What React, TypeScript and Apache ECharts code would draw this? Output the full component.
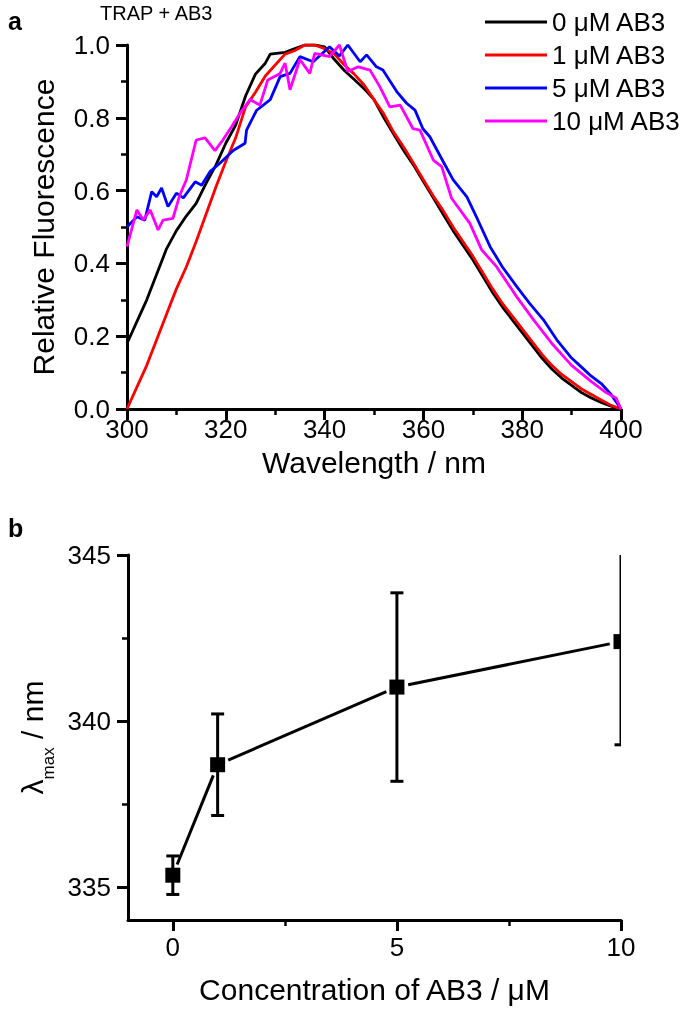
import React, { useEffect, useRef } from "react";
import * as echarts from "echarts";

// ---------- Panel a: fluorescence spectra ----------
const seriesNames = ["0 μM AB3", "1 μM AB3", "5 μM AB3", "10 μM AB3"];
const seriesColors = ["#000000", "#ff0000", "#0000ff", "#ff00ff"];

const black0: [number, number][] = [
  [300, 0.18], [302, 0.24], [304, 0.3], [306, 0.37], [308, 0.44], [310, 0.49], [312, 0.53],
  [314, 0.565], [316, 0.62], [318, 0.67], [320, 0.73], [322, 0.78], [324, 0.86], [326, 0.92],
  [328, 0.95], [329, 0.975], [332, 0.98], [334, 0.99], [336, 1.0], [338, 1.0], [340, 0.995],
  [342, 0.96], [344, 0.93], [346, 0.905], [348, 0.88], [350, 0.85], [352, 0.8], [354, 0.755],
  [356, 0.71], [358, 0.67], [360, 0.625], [362, 0.58], [364, 0.535], [366, 0.49], [368, 0.45],
  [370, 0.41], [372, 0.365], [374, 0.32], [376, 0.28], [378, 0.245], [380, 0.21], [382, 0.175],
  [384, 0.14], [386, 0.11], [388, 0.085], [390, 0.065], [392, 0.045], [394, 0.03], [396, 0.018],
  [398, 0.008], [400, 0.0],
];
const red1: [number, number][] = [
  [300, 0.0], [302, 0.06], [304, 0.12], [306, 0.19], [308, 0.26], [310, 0.33], [312, 0.39],
  [314, 0.46], [316, 0.535], [318, 0.61], [320, 0.68], [322, 0.745], [324, 0.83], [326, 0.87],
  [328, 0.915], [330, 0.945], [332, 0.975], [334, 0.985], [336, 1.0], [338, 1.0], [340, 0.99],
  [342, 0.975], [344, 0.945], [346, 0.92], [348, 0.89], [350, 0.85], [352, 0.81], [354, 0.76],
  [356, 0.72], [358, 0.675], [360, 0.63], [362, 0.585], [364, 0.545], [366, 0.5], [368, 0.46],
  [370, 0.42], [372, 0.375], [374, 0.33], [376, 0.29], [378, 0.255], [380, 0.22], [382, 0.185],
  [384, 0.15], [386, 0.12], [388, 0.095], [390, 0.075], [392, 0.055], [394, 0.04], [396, 0.025],
  [398, 0.01], [400, 0.0],
];
const blue5: [number, number][] = [
  [300, 0.5], [302, 0.528], [303.6, 0.519], [305, 0.597], [306, 0.583], [307, 0.607],
  [308.3, 0.556], [310, 0.593], [311.4, 0.58], [313.8, 0.624], [315.1, 0.615], [316.8, 0.652],
  [318.8, 0.675], [321.5, 0.71], [323.9, 0.73], [324.2, 0.766], [326.2, 0.82], [329, 0.85],
  [331, 0.913], [333, 0.922], [335, 0.968], [337.7, 0.954], [341, 0.995], [343, 0.97],
  [344.7, 1.0], [347.2, 0.954], [348.5, 0.973], [350.5, 0.94], [351.8, 0.931], [354.6, 0.872],
  [356.6, 0.84], [358.3, 0.821], [359.9, 0.77], [361.3, 0.748], [364, 0.68], [366, 0.63],
  [368.8, 0.583], [371, 0.52], [373.5, 0.446], [376, 0.39], [378.9, 0.336], [381.5, 0.29],
  [384.3, 0.245], [387, 0.19], [390, 0.14], [392, 0.115], [394, 0.09], [396, 0.07],
  [398, 0.04], [400, 0.0],
];
const magenta10: [number, number][] = [
  [300, 0.446], [302, 0.547], [303.3, 0.519], [304.7, 0.547], [306.3, 0.492], [307.3, 0.519],
  [309.3, 0.524], [310.7, 0.588], [312, 0.629], [314, 0.739], [315.8, 0.745], [317.8, 0.71],
  [319.4, 0.739], [321.2, 0.776], [322.9, 0.813], [324.9, 0.85], [326.9, 0.835], [328.5, 0.904],
  [331, 0.922], [332, 0.95], [333, 0.877], [335, 0.96], [337, 0.922], [338, 0.977], [341, 0.968],
  [343, 1.0], [344.7, 0.927], [346.8, 0.94], [349.2, 0.931], [351.2, 0.885], [353.2, 0.83],
  [355.3, 0.835], [357.9, 0.77], [359.3, 0.766], [362, 0.684], [363.7, 0.666], [365.7, 0.579],
  [369.4, 0.51], [371.8, 0.437], [374.8, 0.391], [378.9, 0.308], [382.3, 0.245], [386, 0.18],
  [390, 0.12], [394, 0.075], [397, 0.045], [399, 0.03], [400, 0.0],
];
const spectra = [black0, red1, blue5, magenta10];

// ---------- Panel b: lambda max vs concentration ----------
const concentrations = [0, 1, 5, 10];
const lambdaMax = [335.35, 338.68, 341.02, 342.39];
const lambdaErr = [0.58, 1.53, 2.84, 3.11];
const xTicksB = [0, 5, 10];
const xMinorB = [2.5, 7.5];
const yTicksB = [335, 340, 345];
const yMinorB = [337.5, 342.5];

const FONT = "'Liberation Sans', Arial, sans-serif";

export default function App() {
  const ref = useRef<HTMLDivElement>(null);
  useEffect(() => {
    if (!ref.current) return;
    const chart = echarts.init(ref.current, undefined, { renderer: "svg" });

    const axisLine = { show: true, onZero: false, lineStyle: { color: "#000", width: 3 } };
    const axisTick = { show: true, inside: false, length: 11, lineStyle: { color: "#000", width: 3 } };
    const minorTick = { show: true, splitNumber: 2, length: 6, lineStyle: { color: "#000", width: 2.5 } };
    const minorAxisTick = { show: true, inside: false, length: 6, lineStyle: { color: "#000", width: 2.5 } };
    const label = { color: "#000", fontSize: 26, fontFamily: FONT };
    const nameStyle = { color: "#000", fontSize: 30, fontFamily: FONT };

    const gridA = { left: 127, top: 45, width: 494, height: 364 };
    const gridB = { left: 128, top: 555, width: 493, height: 365 };

    const errData = concentrations.map((c, i) => [c, lambdaMax[i] - lambdaErr[i], lambdaMax[i] + lambdaErr[i]]);
    const segData = concentrations.slice(0, -1).map((c, i) => [c, lambdaMax[i], concentrations[i + 1], lambdaMax[i + 1]]);
    const ptData = concentrations.map((c, i) => [c, lambdaMax[i]]);

    chart.setOption({
      animation: false,
      textStyle: { fontFamily: FONT },
      grid: [
        { ...gridA, containLabel: false },
        { ...gridB, containLabel: false },
      ],
      legend: {
        orient: "vertical",
        left: 480,
        top: 4,
        itemWidth: 62,
        itemHeight: 3,
        itemGap: 7,
        itemTextGap: 6,
        icon: "rect",
        textStyle: { color: "#000", fontSize: 26, lineHeight: 26, fontFamily: FONT },
        data: seriesNames,
      },
      xAxis: [
        {
          gridIndex: 0, type: "value", position: "bottom", min: 300, max: 400, interval: 20,
          axisLine, axisTick, minorTick, splitLine: { show: false },
          axisLabel: { ...label, margin: 7 },
          name: "Wavelength / nm", nameLocation: "middle", nameGap: 38, nameTextStyle: nameStyle,
        },
        {
          gridIndex: 1, type: "value", position: "bottom", min: -1, max: 10,
          axisLine, axisTick: { ...axisTick, customValues: xTicksB }, splitLine: { show: false },
          axisLabel: { ...label, margin: 14, customValues: xTicksB },
          name: "Concentration of AB3 / μM", nameLocation: "middle", nameGap: 54, nameTextStyle: nameStyle,
        },
        {
          gridIndex: 1, type: "value", position: "bottom", offset: 0, min: -1, max: 10,
          axisLine: { show: false, onZero: false }, splitLine: { show: false },
          axisTick: { ...minorAxisTick, customValues: xMinorB },
          axisLabel: { show: false, customValues: xMinorB },
        },
      ],
      yAxis: [
        {
          gridIndex: 0, type: "value", position: "left", min: 0, max: 1, interval: 0.2,
          axisLine, axisTick, minorTick, splitLine: { show: false },
          axisLabel: { ...label, margin: 17, formatter: (v: number) => v.toFixed(1) },
          name: "Relative Fluorescence", nameLocation: "middle", nameGap: 69, nameTextStyle: nameStyle,
        },
        {
          gridIndex: 1, type: "value", position: "left", min: 334, max: 345,
          axisLine, axisTick: { ...axisTick, customValues: yTicksB }, splitLine: { show: false },
          axisLabel: { ...label, margin: 17, customValues: yTicksB },
          name: "{a|λ}{b|max}{a| / nm}", nameLocation: "middle", nameGap: 70,
          nameTextStyle: {
            ...nameStyle,
            rich: {
              a: { fontSize: 30, fontFamily: FONT, color: "#000" },
              b: { fontSize: 17, fontFamily: FONT, color: "#000", verticalAlign: "bottom", padding: [0, 0, -9, 0] },
            },
          },
        },
        {
          gridIndex: 1, type: "value", position: "left", offset: 0, min: 334, max: 345,
          axisLine: { show: false, onZero: false }, splitLine: { show: false },
          axisTick: { ...minorAxisTick, customValues: yMinorB },
          axisLabel: { show: false, customValues: yMinorB },
        },
      ],
      graphic: [
        { type: "text", left: 8, top: 8, style: { text: "a", fontSize: 25, fontWeight: "bold", fontFamily: FONT, fill: "#000" } },
        { type: "text", left: 100, top: 3, style: { text: "TRAP + AB3", fontSize: 20, fontFamily: FONT, fill: "#000" } },
        { type: "text", left: 8, top: 515, style: { text: "b", fontSize: 25, fontWeight: "bold", fontFamily: FONT, fill: "#000" } },
      ],
      series: [
        ...spectra.map((d, i) => ({
          type: "line",
          name: seriesNames[i],
          xAxisIndex: 0,
          yAxisIndex: 0,
          data: d,
          showSymbol: false,
          symbol: "none",
          color: seriesColors[i],
          lineStyle: { color: seriesColors[i], width: 2.8 },
          z: 2 + i,
        })),
        {
          type: "custom",
          xAxisIndex: 1,
          yAxisIndex: 1,
          clip: true,
          data: errData,
          renderItem: (params: any, api: any) => {
            const x = api.value(0);
            const lo = api.coord([x, api.value(1)]);
            const hi = api.coord([x, api.value(2)]);
            const w = 6.5;
            const st = { stroke: "#000", lineWidth: 3 };
            return {
              type: "group",
              children: [
                { type: "line", shape: { x1: lo[0], y1: lo[1], x2: hi[0], y2: hi[1] }, style: st },
                { type: "line", shape: { x1: lo[0] - w, y1: lo[1], x2: lo[0] + w, y2: lo[1] }, style: st },
                { type: "line", shape: { x1: hi[0] - w, y1: hi[1], x2: hi[0] + w, y2: hi[1] }, style: st },
              ],
            };
          },
        },
        {
          type: "custom",
          xAxisIndex: 1,
          yAxisIndex: 1,
          clip: true,
          data: segData,
          renderItem: (params: any, api: any) => {
            const p1 = api.coord([api.value(0), api.value(1)]);
            const p2 = api.coord([api.value(2), api.value(3)]);
            const dx = p2[0] - p1[0];
            const dy = p2[1] - p1[1];
            const len = Math.sqrt(dx * dx + dy * dy);
            const g = 11.5;
            const ux = dx / len, uy = dy / len;
            return {
              type: "line",
              shape: { x1: p1[0] + ux * g, y1: p1[1] + uy * g, x2: p2[0] - ux * g, y2: p2[1] - uy * g },
              style: { stroke: "#000", lineWidth: 3 },
            };
          },
        },
        {
          type: "custom",
          xAxisIndex: 1,
          yAxisIndex: 1,
          clip: true,
          data: ptData,
          renderItem: (params: any, api: any) => {
            const p = api.coord([api.value(0), api.value(1)]);
            const s = 15;
            return { type: "rect", shape: { x: p[0] - s / 2, y: p[1] - s / 2, width: s, height: s }, style: { fill: "#000" } };
          },
        },
      ],
    });
    return () => chart.dispose();
  }, []);
  return <div ref={ref} style={{ position: "fixed", left: 0, top: 0, width: 683, height: 1010 }} />;
}
